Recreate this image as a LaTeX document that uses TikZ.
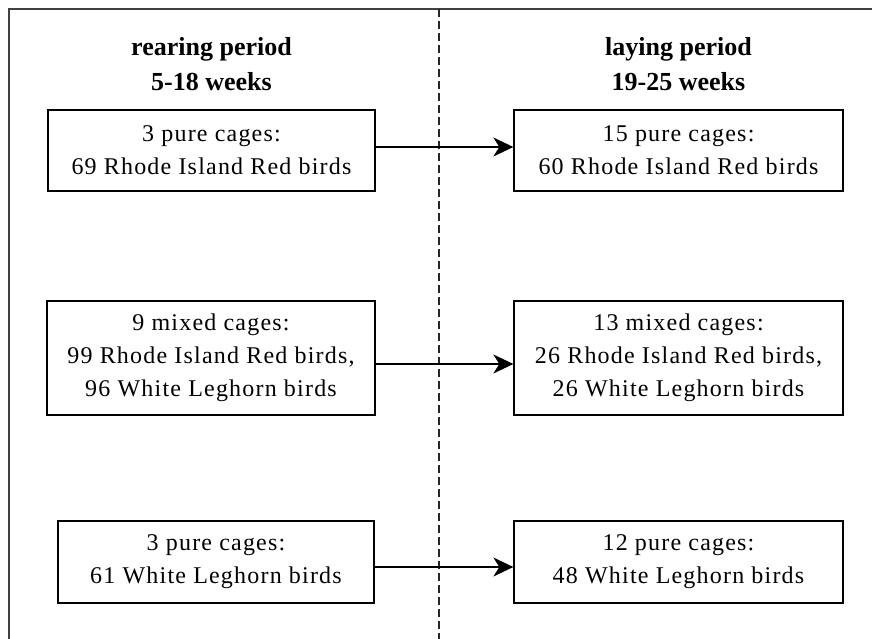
\documentclass[tikz,border=0pt]{standalone}
\usepackage{fontspec}
\setmainfont{Liberation Serif}
\newfontfamily\bodyfont{Liberation Serif}[LetterSpace=5]
\usetikzlibrary{arrows.meta}
\begin{document}
\begin{tikzpicture}[x=1pt,y=-1pt,
  cage/.style={draw=black, line width=1.3pt, inner sep=0pt, align=center,
    font=\bodyfont\fontsize{24}{33}\selectfont},
  head/.style={align=center, inner sep=0pt, anchor=north,
    font=\bfseries\fontsize{26}{35}\selectfont},
  flow/.style={line width=1.3pt, -{Stealth[length=20pt,width=19pt,inset=6pt]}},
  frame/.style={draw=black!75, line width=2pt},
  divider/.style={draw=black!85, line width=1.1pt, dash pattern=on 8pt off 4pt}]
\useasboundingbox (0,0) rectangle (872,639);
% frame and divider
\draw[frame] (9,639) -- (9,9) -- (872,9);
\draw[divider] (439,9) -- (439,639);
% headings
\node[head] (hl) at (211.5,37.5) {rearing period\\5-18 weeks};
\node[head] (hr) at (678.5,37.5) {laying period\\19-25 weeks};
% boxes
\node[cage, minimum width=327pt, minimum height=81pt] (tl) at (211.5,150.5)
  {3 pure cages:\\69 Rhode Island Red birds};
\node[cage, minimum width=329pt, minimum height=81pt] (tr) at (678.5,150.5)
  {15 pure cages:\\60 Rhode Island Red birds};
\node[cage, minimum width=328pt, minimum height=114pt] (ml) at (211,358)
  {9 mixed cages:\\99 Rhode Island Red birds,\\96 White Leghorn birds};
\node[cage, minimum width=329pt, minimum height=114pt] (mr) at (678.5,358)
  {13 mixed cages:\\26 Rhode Island Red birds,\\26 White Leghorn birds};
\node[cage, minimum width=316pt, minimum height=82pt] (bl) at (216,562)
  {3 pure cages:\\61 White Leghorn birds};
\node[cage, minimum width=329pt, minimum height=82pt] (br) at (678.5,562)
  {12 pure cages:\\48 White Leghorn birds};
% arrows
\draw[flow] ([yshift=3.5pt]tl.east) -- ([yshift=3.5pt]tr.west);
\draw[flow] ([yshift=-6pt]ml.east) -- ([yshift=-6pt]mr.west);
\draw[flow] ([yshift=-5pt]bl.east) -- ([yshift=-5pt]br.west);
\end{tikzpicture}
\end{document}
